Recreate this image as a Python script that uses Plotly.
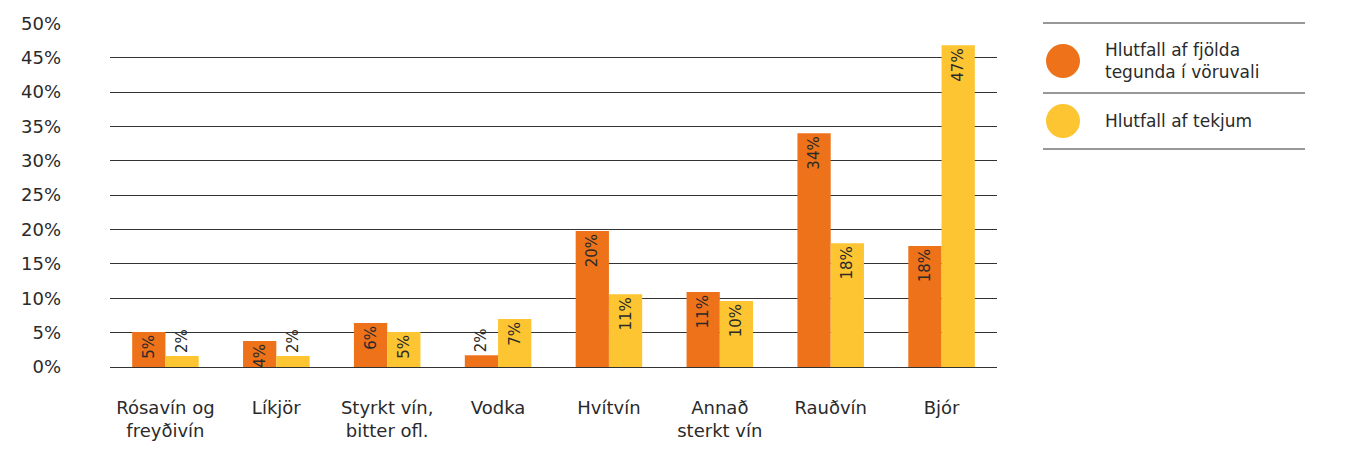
import plotly.graph_objects as go

categories = ["Rósavín og<br>freyðivín", "Líkjör", "Styrkt vín,<br>bitter ofl.", "Vodka",
              "Hvítvín", "Annað<br>sterkt vín", "Rauðvín", "Bjór"]
series_names = ["Hlutfall af fjölda<br>tegunda í vöruvali", "Hlutfall af tekjum"]
share_count = [5.1, 3.8, 6.4, 1.7, 19.8, 10.9, 34.0, 17.6]
share_revenue = [1.6, 1.6, 5.1, 7.0, 10.6, 9.6, 18.0, 46.8]
y_ticks = [0, 5, 10, 15, 20, 25, 30, 35, 40, 45, 50]
colors = ["#EE7219", "#FDC532"]

FONT = "DejaVu Sans"
TXT = "#2a2a2a"

# the page body has an 8px margin; figure is placed at (8, 8)
OFF = 8
W, H = 1350 - 2 * OFF, 450 - 2 * OFF
L, T = 110 - OFF, 23 - OFF
PW, PH = 887, 344
R, B = W - L - PW, H - T - PH

fig = go.Figure()
for name, vals, col in zip(series_names, [share_count, share_revenue], colors):
    fig.add_trace(go.Bar(
        x=categories, y=vals, name=name.replace("<br>", " "),
        marker=dict(color=col, line=dict(width=0)),
        text=[f"{int(v + 0.5)}%" for v in vals],
        textposition=["inside" if v >= 3 else "outside" for v in vals],
        textangle=-90, insidetextanchor="end",
        textfont=dict(family=FONT, size=15, color=TXT),
        insidetextfont=dict(family=FONT, size=15, color=TXT),
        outsidetextfont=dict(family=FONT, size=15, color=TXT),
        cliponaxis=False, constraintext="none",
    ))

fig.update_layout(
    width=W, height=H,
    margin=dict(l=L, r=R, t=T, b=B),
    paper_bgcolor="white", plot_bgcolor="white",
    barmode="group", bargap=0.4, bargroupgap=0,
    showlegend=False,
    font=dict(family=FONT, size=18, color=TXT),
    uniformtext=dict(minsize=15, mode="show"),
)
fig.update_yaxes(
    range=[0, 50.05], tickvals=y_ticks, ticktext=[f"{t}%" for t in y_ticks],
    showgrid=True, gridcolor="#333333", gridwidth=1,
    zeroline=True, zerolinecolor="#333333", zerolinewidth=1,
    showline=False, ticks="", ticklabelstandoff=48, automargin=False,
    tickfont=dict(family=FONT, size=18, color=TXT),
)
fig.update_xaxes(
    showgrid=False, showline=False, ticks="", ticklabelstandoff=28, automargin=False,
    tickfont=dict(family=FONT, size=18, color=TXT),
)

# custom legend on the right (positions given in screen pixels)
def px_x(px):
    return (px - 110) / PW

def px_y(py):
    return (367 - py) / PH

for py in [23, 93, 149]:
    fig.add_shape(type="line", xref="paper", yref="paper",
                  x0=px_x(1043), x1=px_x(1305), y0=px_y(py), y1=px_y(py),
                  line=dict(color="#333333", width=1))

for (cy, col, name) in [(61, colors[0], series_names[0]), (121, colors[1], series_names[1])]:
    fig.add_shape(type="circle", xref="paper", yref="paper",
                  xsizemode="pixel", ysizemode="pixel",
                  xanchor=px_x(1063), yanchor=px_y(cy),
                  x0=-17, x1=17, y0=-17, y1=17,
                  fillcolor=col, line=dict(width=0))
    fig.add_annotation(xref="paper", yref="paper", x=px_x(1103), y=px_y(cy),
                       xanchor="left", yanchor="middle", align="left",
                       text=name, showarrow=False,
                       font=dict(family=FONT, size=17, color=TXT))

fig.write_html("out.html")
